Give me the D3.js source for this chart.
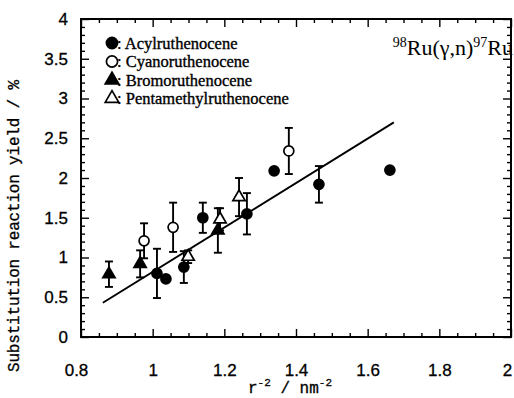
<!DOCTYPE html>
<html>
<head>
<meta charset="utf-8">
<script src="https://cdn.jsdelivr.net/npm/d3@7/dist/d3.min.js"></script>
<style>
  html, body { margin: 0; padding: 0; background: #fff; }
  svg { display: block; }
  .tick text { font-family: "Liberation Sans", Arial, sans-serif; font-size: 17px; fill: #000; stroke: #000; stroke-width: 0.3px; }
</style>
</head>
<body>
<svg id="chart" width="514" height="398"></svg>
<script>
// Substitution reaction yield versus r^-2 for the four ruthenocene derivatives
const seriesNames = ["Acylruthenocene", "Cyanoruthenocene", "Bromoruthenocene", "Pentamethylruthenocene"];

const acylX   = [1.012, 1.037, 1.087, 1.140, 1.263, 1.339, 1.464, 1.662];
const acylY   = [0.80, 0.73, 0.88, 1.50, 1.55, 2.09, 1.92, 2.10];
const acylErr = [0.31, 0, 0.20, 0.19, 0.26, 0, 0.23, 0];

const cyanoX   = [0.976, 1.057, 1.380];
const cyanoY   = [1.21, 1.38, 2.34];
const cyanoErr = [0.22, 0.31, 0.29];

const bromoX   = [0.878, 0.965, 1.182];
const bromoY   = [0.79, 0.92, 1.34];
const bromoErr = [0.16, 0.17, 0.28];

const pentaX   = [1.099, 1.188, 1.241];
const pentaY   = [1.01, 1.48, 1.76];
const pentaErr = [0.08, 0.14, 0.24];

// straight-line fit through all points
const fitX = [0.861, 1.673];
const fitY = [0.43, 2.70];

const xTicks = [0.8, 1, 1.2, 1.4, 1.6, 1.8, 2];
const yTicks = [0, 0.5, 1, 1.5, 2, 2.5, 3, 3.5, 4];

const svg = d3.select("#chart");
const plotLeft = 81, plotRight = 511, plotTop = 19, plotBottom = 337;

const x = d3.scaleLinear().domain([0.8, 2]).range([plotLeft, plotRight]);
const y = d3.scaleLinear().domain([0, 4]).range([plotBottom, plotTop]);

const xMinor = d3.range(0.85, 2.0, 0.05).map(v => +v.toFixed(2)).filter(v => !xTicks.some(t => Math.abs(t - v) < 1e-6));
const yMinor = d3.range(0.1, 4.0, 0.1).map(v => +v.toFixed(2)).filter(v => !yTicks.some(t => Math.abs(t - v) < 1e-6));

function strip(g) { g.select(".domain").remove(); g.selectAll("line").attr("stroke", "#000").attr("stroke-width", 1.4); }

// bottom axis (labelled), ticks pointing inward
const xAxisG = svg.append("g").attr("transform", `translate(0,${plotBottom})`)
  .call(d3.axisBottom(x).tickValues(xTicks).tickSize(-8).tickPadding(27).tickFormat(d3.format("")))
  .call(strip);
// keep the end labels inside the canvas
xAxisG.selectAll(".tick text").attr("dx", d => d === 0.8 ? -5 : (d === 2 ? -4 : 0));
svg.append("g").attr("transform", `translate(0,${plotBottom})`)
  .call(d3.axisBottom(x).tickValues(xMinor).tickSize(-4).tickFormat(""))
  .call(strip);
// top axis
svg.append("g").attr("transform", `translate(0,${plotTop})`)
  .call(d3.axisTop(x).tickValues(xTicks).tickSize(-8).tickFormat(""))
  .call(strip);
svg.append("g").attr("transform", `translate(0,${plotTop})`)
  .call(d3.axisTop(x).tickValues(xMinor).tickSize(-4).tickFormat(""))
  .call(strip);
// left axis (labelled)
svg.append("g").attr("transform", `translate(${plotLeft},0)`)
  .call(d3.axisLeft(y).tickValues(yTicks).tickSize(-8).tickPadding(13).tickFormat(d3.format("")))
  .call(strip);
svg.append("g").attr("transform", `translate(${plotLeft},0)`)
  .call(d3.axisLeft(y).tickValues(yMinor).tickSize(-4).tickFormat(""))
  .call(strip);
// right axis
svg.append("g").attr("transform", `translate(${plotRight},0)`)
  .call(d3.axisRight(y).tickValues(yTicks).tickSize(-8).tickFormat(""))
  .call(strip);
svg.append("g").attr("transform", `translate(${plotRight},0)`)
  .call(d3.axisRight(y).tickValues(yMinor).tickSize(-4).tickFormat(""))
  .call(strip);

// frame
svg.append("rect")
  .attr("x", plotLeft).attr("y", plotTop)
  .attr("width", plotRight - plotLeft).attr("height", plotBottom - plotTop)
  .attr("fill", "none").attr("stroke", "#000").attr("stroke-width", 2);

// fit line
svg.append("line")
  .attr("x1", x(fitX[0])).attr("y1", y(fitY[0]))
  .attr("x2", x(fitX[1])).attr("y2", y(fitY[1]))
  .attr("stroke", "#000").attr("stroke-width", 1.9);

const series = [
  { xs: acylX,  ys: acylY,  es: acylErr,  shape: "circle",   filled: true },
  { xs: cyanoX, ys: cyanoY, es: cyanoErr, shape: "circle",   filled: false },
  { xs: bromoX, ys: bromoY, es: bromoErr, shape: "triangle", filled: true },
  { xs: pentaX, ys: pentaY, es: pentaErr, shape: "triangle", filled: false }
];

const cap = 4;
const triPath = d3.symbol().type(d3.symbolTriangle).size(65)();
const triPathLegend = d3.symbol().type(d3.symbolTriangle).size(80)();

function drawMarker(g, shape, filled, cx, cy, r, tri) {
  if (shape === "circle") {
    g.append("circle").attr("cx", cx).attr("cy", cy).attr("r", r)
      .attr("fill", filled ? "#000" : "#fff").attr("stroke", "#000").attr("stroke-width", 1.7);
  } else {
    g.append("path").attr("d", tri).attr("transform", `translate(${cx},${cy})`)
      .attr("fill", filled ? "#000" : "#fff").attr("stroke", "#000").attr("stroke-width", 1.7);
  }
}

const plot = svg.append("g");
// error bars first, markers on top
series.forEach(s => {
  s.xs.forEach((xv, i) => {
    const e = s.es[i];
    if (!e) return;
    const px = x(xv), y0 = y(s.ys[i] - e), y1 = y(s.ys[i] + e);
    plot.append("line").attr("x1", px).attr("x2", px).attr("y1", y0).attr("y2", y1)
      .attr("stroke", "#000").attr("stroke-width", 1.9);
    [y0, y1].forEach(yy => plot.append("line")
      .attr("x1", px - cap).attr("x2", px + cap).attr("y1", yy).attr("y2", yy)
      .attr("stroke", "#000").attr("stroke-width", 1.9));
  });
});
series.forEach(s => {
  s.xs.forEach((xv, i) => drawMarker(plot, s.shape, s.filled, x(xv), y(s.ys[i]), 5, triPath));
});

// legend
const legend = svg.append("g");
series.forEach((s, i) => {
  const cy = 43 + i * 18.5;
  drawMarker(legend, s.shape, s.filled, 112, cy, 5.6, triPathLegend);
  legend.append("text")
    .attr("x", 117).attr("y", cy + 5.5)
    .attr("font-family", "'Liberation Serif', 'Times New Roman', serif")
    .attr("font-size", 16.5)
    .attr("stroke", "#000").attr("stroke-width", 0.35)
    .text(": " + seriesNames[i]);
});

// reaction label
const rx = svg.append("text")
  .attr("x", 513).attr("y", 55)
  .attr("text-anchor", "end")
  .attr("font-family", "'Liberation Serif', 'Times New Roman', serif")
  .attr("font-size", 22);
rx.append("tspan").attr("font-size", 14).attr("dy", -8).text("98");
rx.append("tspan").attr("dy", 8).text("Ru(γ,n)");
rx.append("tspan").attr("font-size", 14).attr("dy", -8).text("97");
rx.append("tspan").attr("dy", 8).text("Ru");

// axis titles
const xt = svg.append("text")
  .attr("x", 290).attr("y", 393)
  .attr("text-anchor", "middle")
  .attr("font-family", "'Liberation Mono', 'Courier New', monospace")
  .attr("font-size", 16)
  .attr("stroke", "#000").attr("stroke-width", 0.3);
xt.append("tspan").text("r");
xt.append("tspan").attr("font-size", 11).attr("dy", -7).text("-2");
xt.append("tspan").attr("dy", 7).text(" / nm");
xt.append("tspan").attr("font-size", 11).attr("dy", -7).text("-2");

svg.append("text")
  .attr("transform", "translate(19,226) rotate(-90)")
  .attr("text-anchor", "middle")
  .attr("font-family", "'Liberation Mono', 'Courier New', monospace")
  .attr("font-size", 16)
  .attr("stroke", "#000").attr("stroke-width", 0.3)
  .attr("textLength", 292).attr("lengthAdjust", "spacing")
  .text("Substitution reaction yield / %");
</script>
</body>
</html>
